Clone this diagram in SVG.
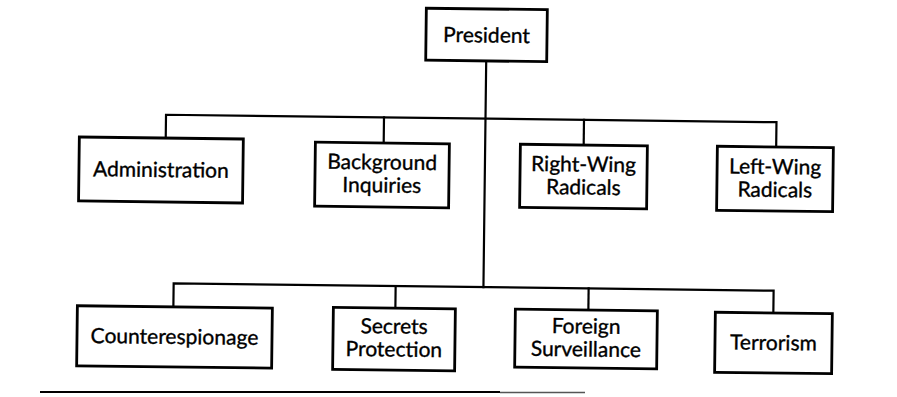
<svg xmlns="http://www.w3.org/2000/svg" width="897" height="397" viewBox="0 0 897 397">
  <style>
    .box { fill: #fff; stroke: #000; stroke-width: 2.8; }
    .lbl { font-family: Lato, "Open Sans", "Liberation Sans", sans-serif; font-size: 21px; fill: #000; stroke: #000; stroke-width: 0.35; text-anchor: middle; }
    .wire { fill: none; stroke: #000; stroke-width: 2.2; stroke-linecap: square; }
  </style>
  <rect width="897" height="397" fill="#fff"/>
  <!-- the whole chart sits slightly rotated on the page -->
  <g transform="rotate(0.7 448 200)">
    <g id="connectors">
      <path class="wire" d="M484.5 60.5 V286.7"/>
      <path class="wire" d="M165 141 V118.2 H775.5 V143"/>
      <path class="wire" d="M383 118.2 V143.8"/>
      <path class="wire" d="M583 118.2 V143.4"/>
      <path class="wire" d="M174.7 310 V286.7 H774.7 V309"/>
      <path class="wire" d="M396.7 286.7 V308.7"/>
      <path class="wire" d="M589.7 286.7 V308.3"/>
    </g>
    <g id="president">
      <rect class="box" x="424" y="8.5" width="121" height="52"/>
      <text class="lbl" x="484.5" y="42">President</text>
    </g>
    <g id="administration">
      <rect class="box" x="78.6" y="141.5" width="164" height="64"/>
      <text class="lbl" x="160.6" y="180.5">Administration</text>
    </g>
    <g id="background-inquiries">
      <rect class="box" x="314.7" y="143.8" width="134" height="64"/>
      <text class="lbl" x="381.7" y="170.3">Background</text>
      <text class="lbl" x="381.7" y="193.3">Inquiries</text>
    </g>
    <g id="right-wing-radicals">
      <rect class="box" x="519.7" y="143.4" width="127" height="63"/>
      <text class="lbl" x="583.2" y="169.9">Right-Wing</text>
      <text class="lbl" x="583.2" y="192.9">Radicals</text>
    </g>
    <g id="left-wing-radicals">
      <rect class="box" x="716.7" y="143" width="116" height="64"/>
      <text class="lbl" x="774.7" y="170">Left-Wing</text>
      <text class="lbl" x="774.7" y="193">Radicals</text>
    </g>
    <g id="counterespionage">
      <rect class="box" x="78.7" y="310.3" width="195" height="60"/>
      <text class="lbl" x="176.2" y="347.3">Counterespionage</text>
    </g>
    <g id="secrets-protection">
      <rect class="box" x="334.7" y="308.7" width="122" height="62"/>
      <text class="lbl" x="395.7" y="334.2">Secrets</text>
      <text class="lbl" x="395.7" y="357.2">Protection</text>
    </g>
    <g id="foreign-surveillance">
      <rect class="box" x="516.7" y="308.3" width="142" height="58"/>
      <text class="lbl" x="587.7" y="331.8">Foreign</text>
      <text class="lbl" x="587.7" y="354.8">Surveillance</text>
    </g>
    <g id="terrorism">
      <rect class="box" x="716.7" y="309" width="117" height="60"/>
      <text class="lbl" x="775.2" y="346">Terrorism</text>
    </g>
  </g>
  <!-- page rule under the chart -->
  <path d="M40 392 H500" stroke="#000" stroke-width="2"/>
  <path d="M500 392.5 H585" stroke="#555" stroke-width="1.5"/>
</svg>
